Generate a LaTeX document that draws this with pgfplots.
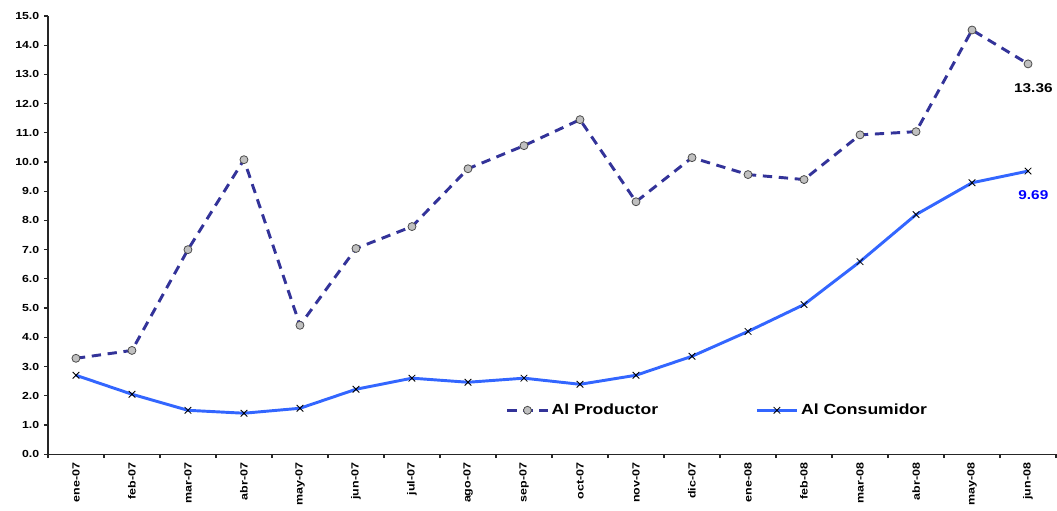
\documentclass[border=0pt]{standalone}
\usepackage{fontspec}
\setmainfont{Liberation Sans}[FakeStretch=1.2]
\usepackage{pgfplots}
\pgfplotsset{compat=1.18}

\definecolor{prodline}{HTML}{333399}
\definecolor{prodmark}{HTML}{C0C0C0}
\definecolor{consline}{HTML}{3366FF}
\definecolor{conslabel}{HTML}{0000FF}

\begin{document}
\begin{tikzpicture}
\begin{axis}[
    scale only axis,
    width=757pt,
    height=329pt,
    xmin=-0.5, xmax=17.5,
    ymin=0, ymax=15,
    axis lines=left,
    axis line style={-, line width=0.9pt, black!85},
    xtick={-0.5,0.5,...,17.5},
    x tick label as interval,
    xticklabels={ene-07,feb-07,mar-07,abr-07,may-07,jun-07,jul-07,ago-07,sep-07,oct-07,nov-07,dic-07,ene-08,feb-08,mar-08,abr-08,may-08,jun-08},
    xticklabel style={rotate=90, anchor=east, font=\bfseries\fontsize{7.8}{9}\selectfont},
    ytick={0,1,...,15},
    yticklabel style={font=\bfseries\fontsize{7.7}{9}\selectfont},
    /pgf/number format/assume math mode=true,
    /pgf/number format/.cd, fixed, fixed zerofill, precision=1,
    /pgfplots/.cd,
    tick align=outside,
    major tick length=3pt,
    tick style={line width=0.9pt, black!85},
    legend style={draw=none, fill=none, at={(0.6645,0.1)}, anchor=center,
        font=\bfseries\fontsize{11}{13}\selectfont, legend columns=2,
        /tikz/every even column/.append style={column sep=71pt}},
    legend cell align=left,
    legend image code/.code={\draw[mark repeat=2,mark phase=2,#1]
        plot coordinates {(0cm,0cm) (0.53cm,0cm) (1.06cm,0cm)};},
    clip=false,
]
\addplot[prodline, line width=2.2pt, dash pattern=on 7pt off 5pt,
    mark=*, mark size=3pt, mark options={solid, fill=prodmark, draw=black!70, line width=0.6pt}]
coordinates {
    (0,3.28) (1,3.55) (2,7.00) (3,10.08) (4,4.41) (5,7.04) (6,7.79) (7,9.77)
    (8,10.56) (9,11.45) (10,8.64) (11,10.15) (12,9.57) (13,9.40) (14,10.93)
    (15,11.04) (16,14.52) (17,13.36)
};
\addlegendentry{Al Productor}
\addplot[consline, line width=2.2pt,
    mark=x, mark size=3.5pt, mark options={black, line width=0.6pt}]
coordinates {
    (0,2.70) (1,2.05) (2,1.50) (3,1.40) (4,1.57) (5,2.22) (6,2.60) (7,2.46)
    (8,2.60) (9,2.39) (10,2.70) (11,3.35) (12,4.20) (13,5.12) (14,6.59)
    (15,8.20) (16,9.29) (17,9.69)
};
\addlegendentry{Al Consumidor}
\node[font=\bfseries\fontsize{9.6}{11}\selectfont, anchor=center, yshift=-18pt, xshift=4pt]
    at (axis cs:17,13.36) {13.36};
\node[font=\bfseries\fontsize{9.6}{11}\selectfont, text=conslabel, anchor=center, yshift=-18pt, xshift=4pt]
    at (axis cs:17,9.69) {9.69};
\end{axis}
\path (current axis.south west) ++(-36pt,-35pt);
\path (current axis.north east) ++(0,12pt);
\end{tikzpicture}
\end{document}
